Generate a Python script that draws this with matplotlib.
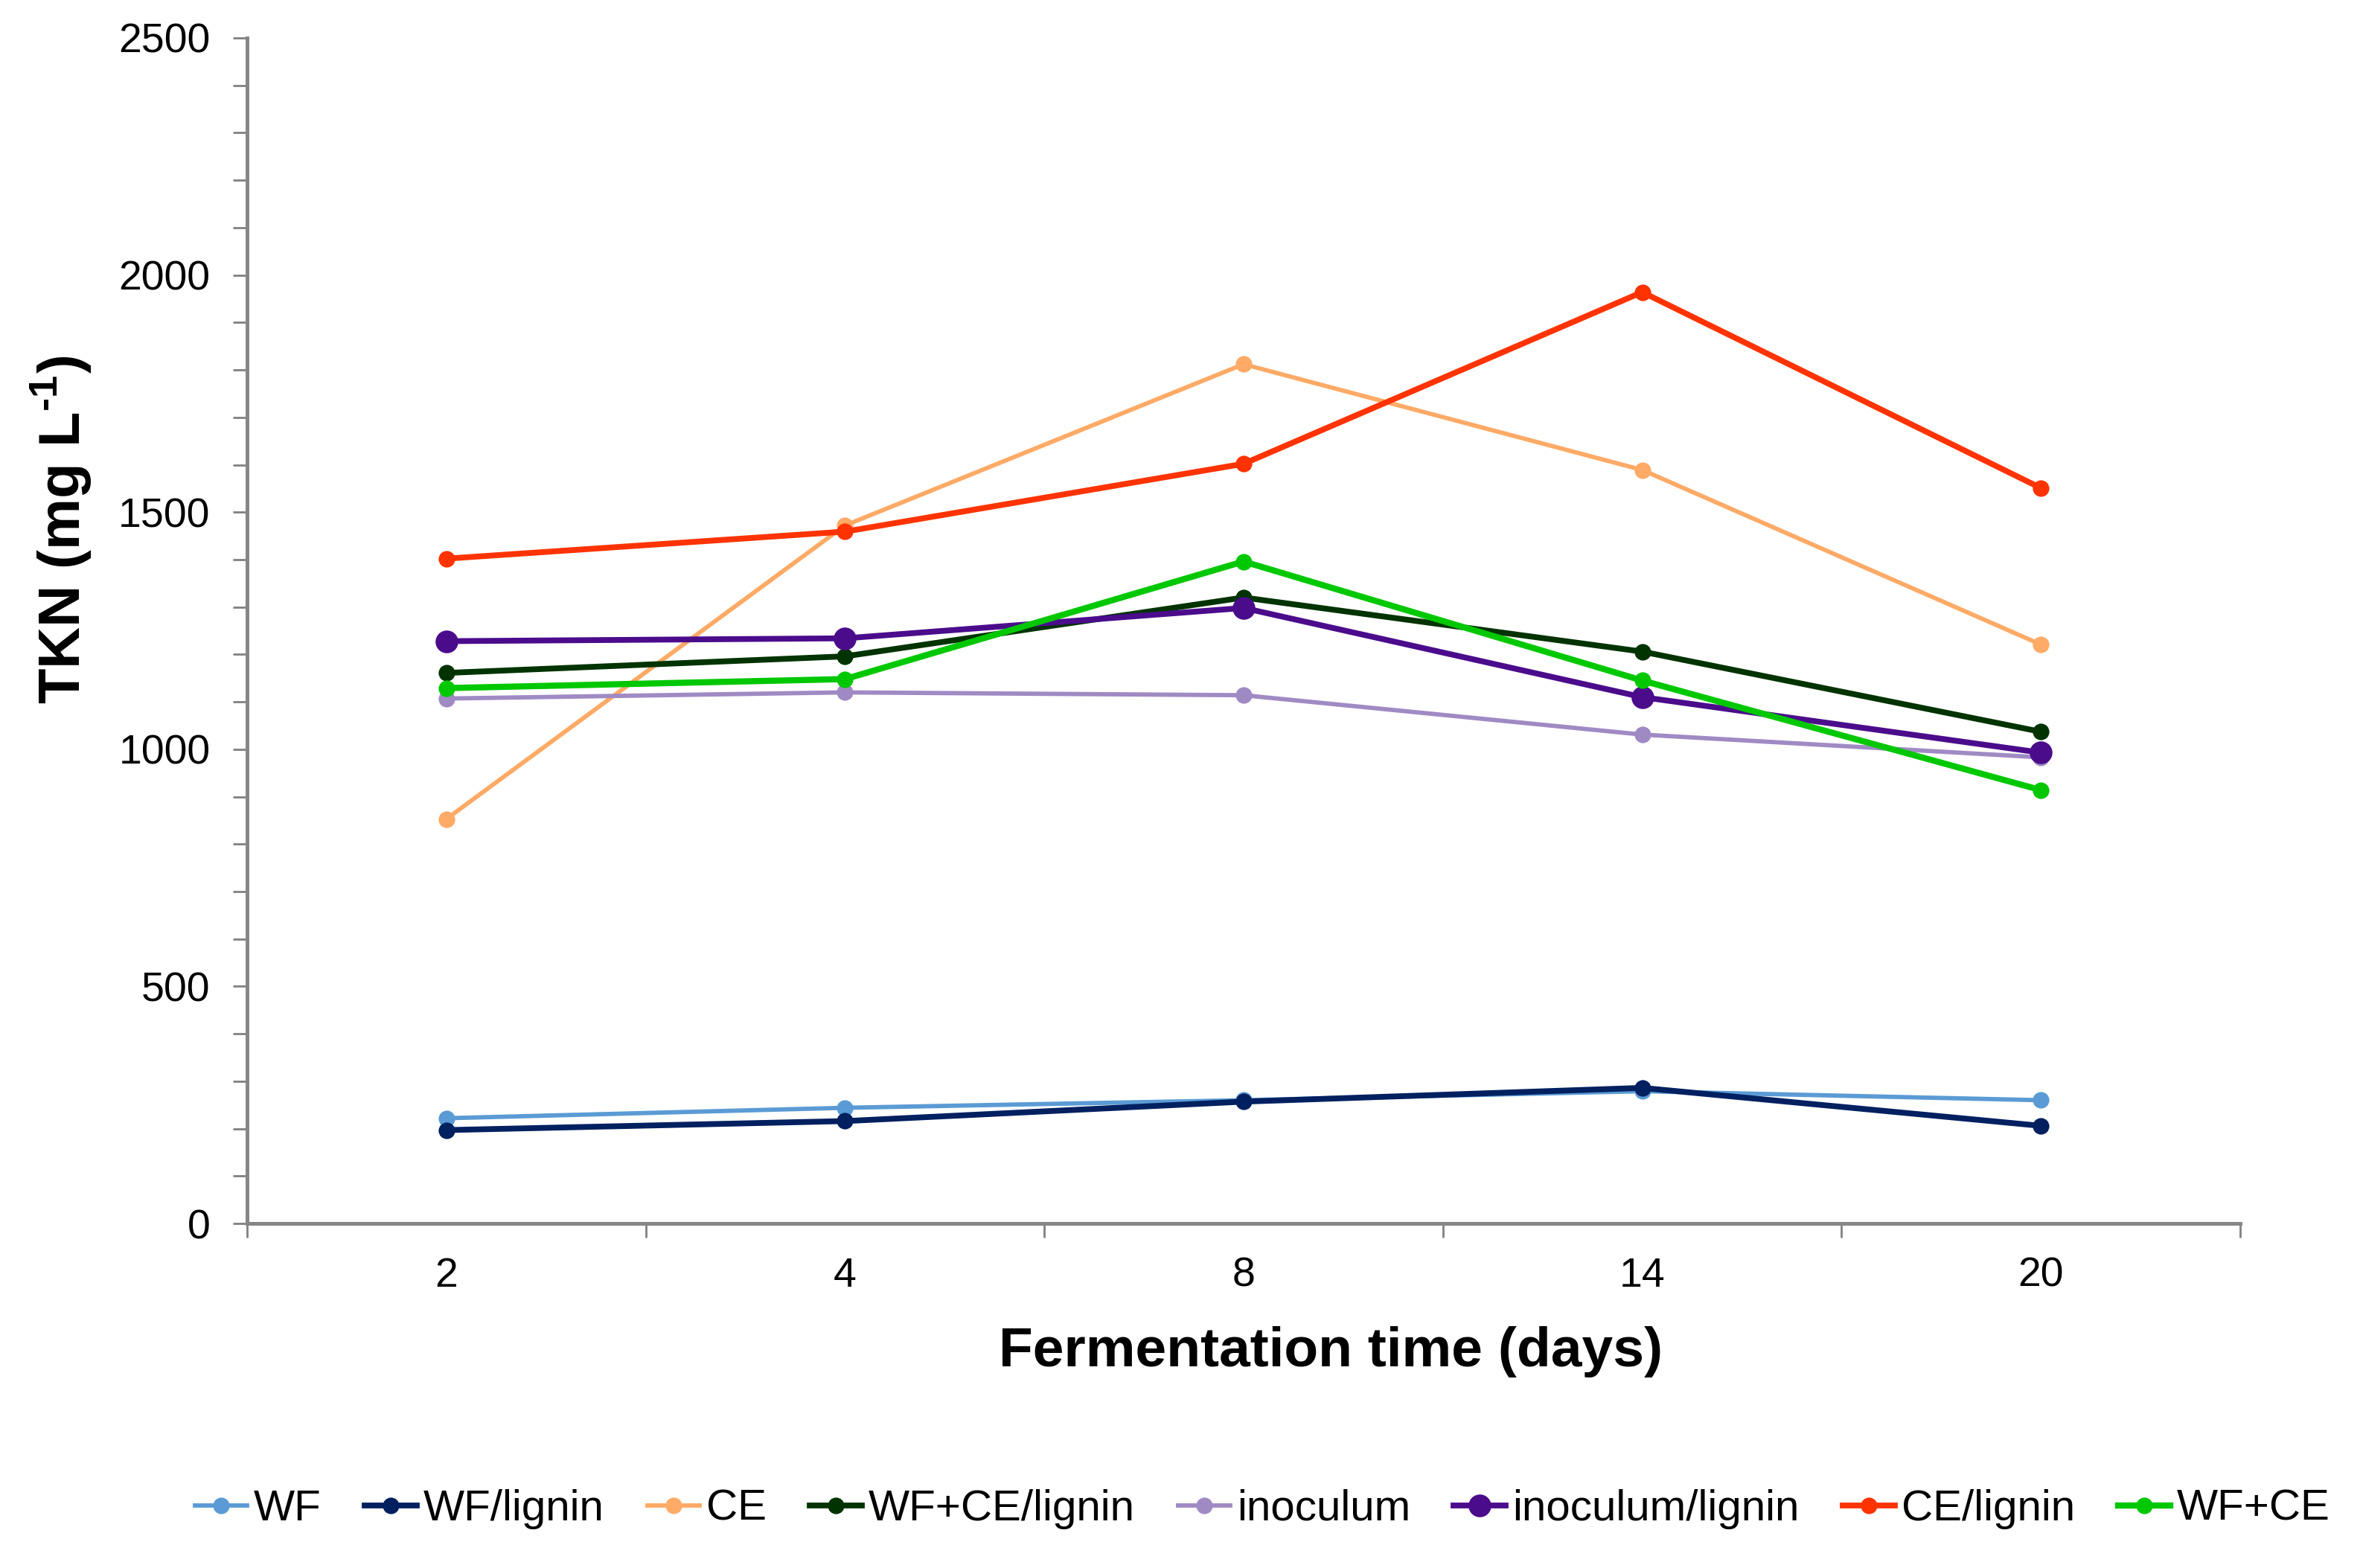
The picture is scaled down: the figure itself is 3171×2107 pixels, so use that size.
import matplotlib
matplotlib.use("Agg")
import matplotlib.pyplot as plt
from matplotlib.ticker import MultipleLocator, FixedLocator

plt.rcParams['font.family'] = ['Liberation Sans', 'DejaVu Sans']
plt.rcParams['mathtext.fontset'] = 'custom'
plt.rcParams['mathtext.rm'] = 'Liberation Sans:bold'
plt.rcParams['mathtext.bf'] = 'Liberation Sans:bold'

# fermentation days (categorical axis)
days = ['2', '4', '8', '14', '20']

# TKN values (mg/L)
wf = [222, 244, 260, 279, 260]
wf_lignin = [197, 216, 257, 286, 206]
ce = [853, 1472, 1812, 1589, 1221]
wf_ce_lignin = [1161, 1196, 1320, 1206, 1037]
inoculum = [1107, 1120, 1114, 1031, 983]
inoculum_lignin = [1228, 1234, 1298, 1110, 993]
ce_lignin = [1402, 1459, 1602, 1964, 1551]
wf_ce = [1129, 1148, 1396, 1145, 914]

series = [
    ('WF', wf, '#5B9BD5', 2.1, 7),
    ('WF/lignin', wf_lignin, '#002060', 2.8, 7),
    ('CE', ce, '#FFAA66', 2.1, 7),
    ('WF+CE/lignin', wf_ce_lignin, '#003300', 2.8, 7),
    ('inoculum', inoculum, '#A08AC4', 2.1, 7),
    ('inoculum/lignin', inoculum_lignin, '#4B0C8C', 2.8, 10),
    ('CE/lignin', ce_lignin, '#FF3300', 2.8, 7),
    ('WF+CE', wf_ce, '#00C800', 3.0, 7),
]

fig = plt.figure(figsize=(15.855, 10.535), dpi=200)
ax = fig.add_axes([0.1047, 0.2197, 0.8445, 0.7561])

x = list(range(len(days)))
for name, vals, col, lw, ms in series:
    ax.plot(x, vals, color=col, lw=lw, marker='o', ms=ms, label=name)

ax.set_xlim(-0.5, len(days) - 0.5)
ax.set_ylim(0, 2500)

# y axis: major every 500, minor every 100
ax.yaxis.set_major_locator(MultipleLocator(500))
ax.yaxis.set_minor_locator(MultipleLocator(100))
ax.tick_params(axis='y', which='both', direction='out', length=6.8,
               width=1.0, color='#808080', labelsize=20, pad=11)

# x axis: labels at categories, tick marks between them
ax.set_xticks(x)
ax.set_xticklabels(days)
ax.xaxis.set_minor_locator(FixedLocator([i - 0.5 for i in range(len(days) + 1)]))
ax.tick_params(axis='x', which='major', length=0, labelsize=20, pad=16)
ax.tick_params(axis='x', which='minor', direction='out', length=6.8,
               width=1.0, color='#808080')

for s in ['top', 'right']:
    ax.spines[s].set_visible(False)
for s in ['left', 'bottom']:
    ax.spines[s].set_color('#868686')
    ax.spines[s].set_linewidth(1.8)

fig.text(0.564, 0.138, 'Fermentation time (days)', fontsize=27,
         fontweight='bold', ha='center', va='center')
fig.text(0.026, 0.662, r'TKN (mg L$^{\text{-1}}$)', fontsize=28,
         fontweight='bold', rotation=90, ha='center', va='center')

fig.legend(loc='center', bbox_to_anchor=(0.535, 0.0375), ncol=8, frameon=False,
           fontsize=21, handlelength=1.2, handletextpad=0.15, columnspacing=1.0,
           borderpad=0.2)

fig.savefig('out.png', dpi=200)
